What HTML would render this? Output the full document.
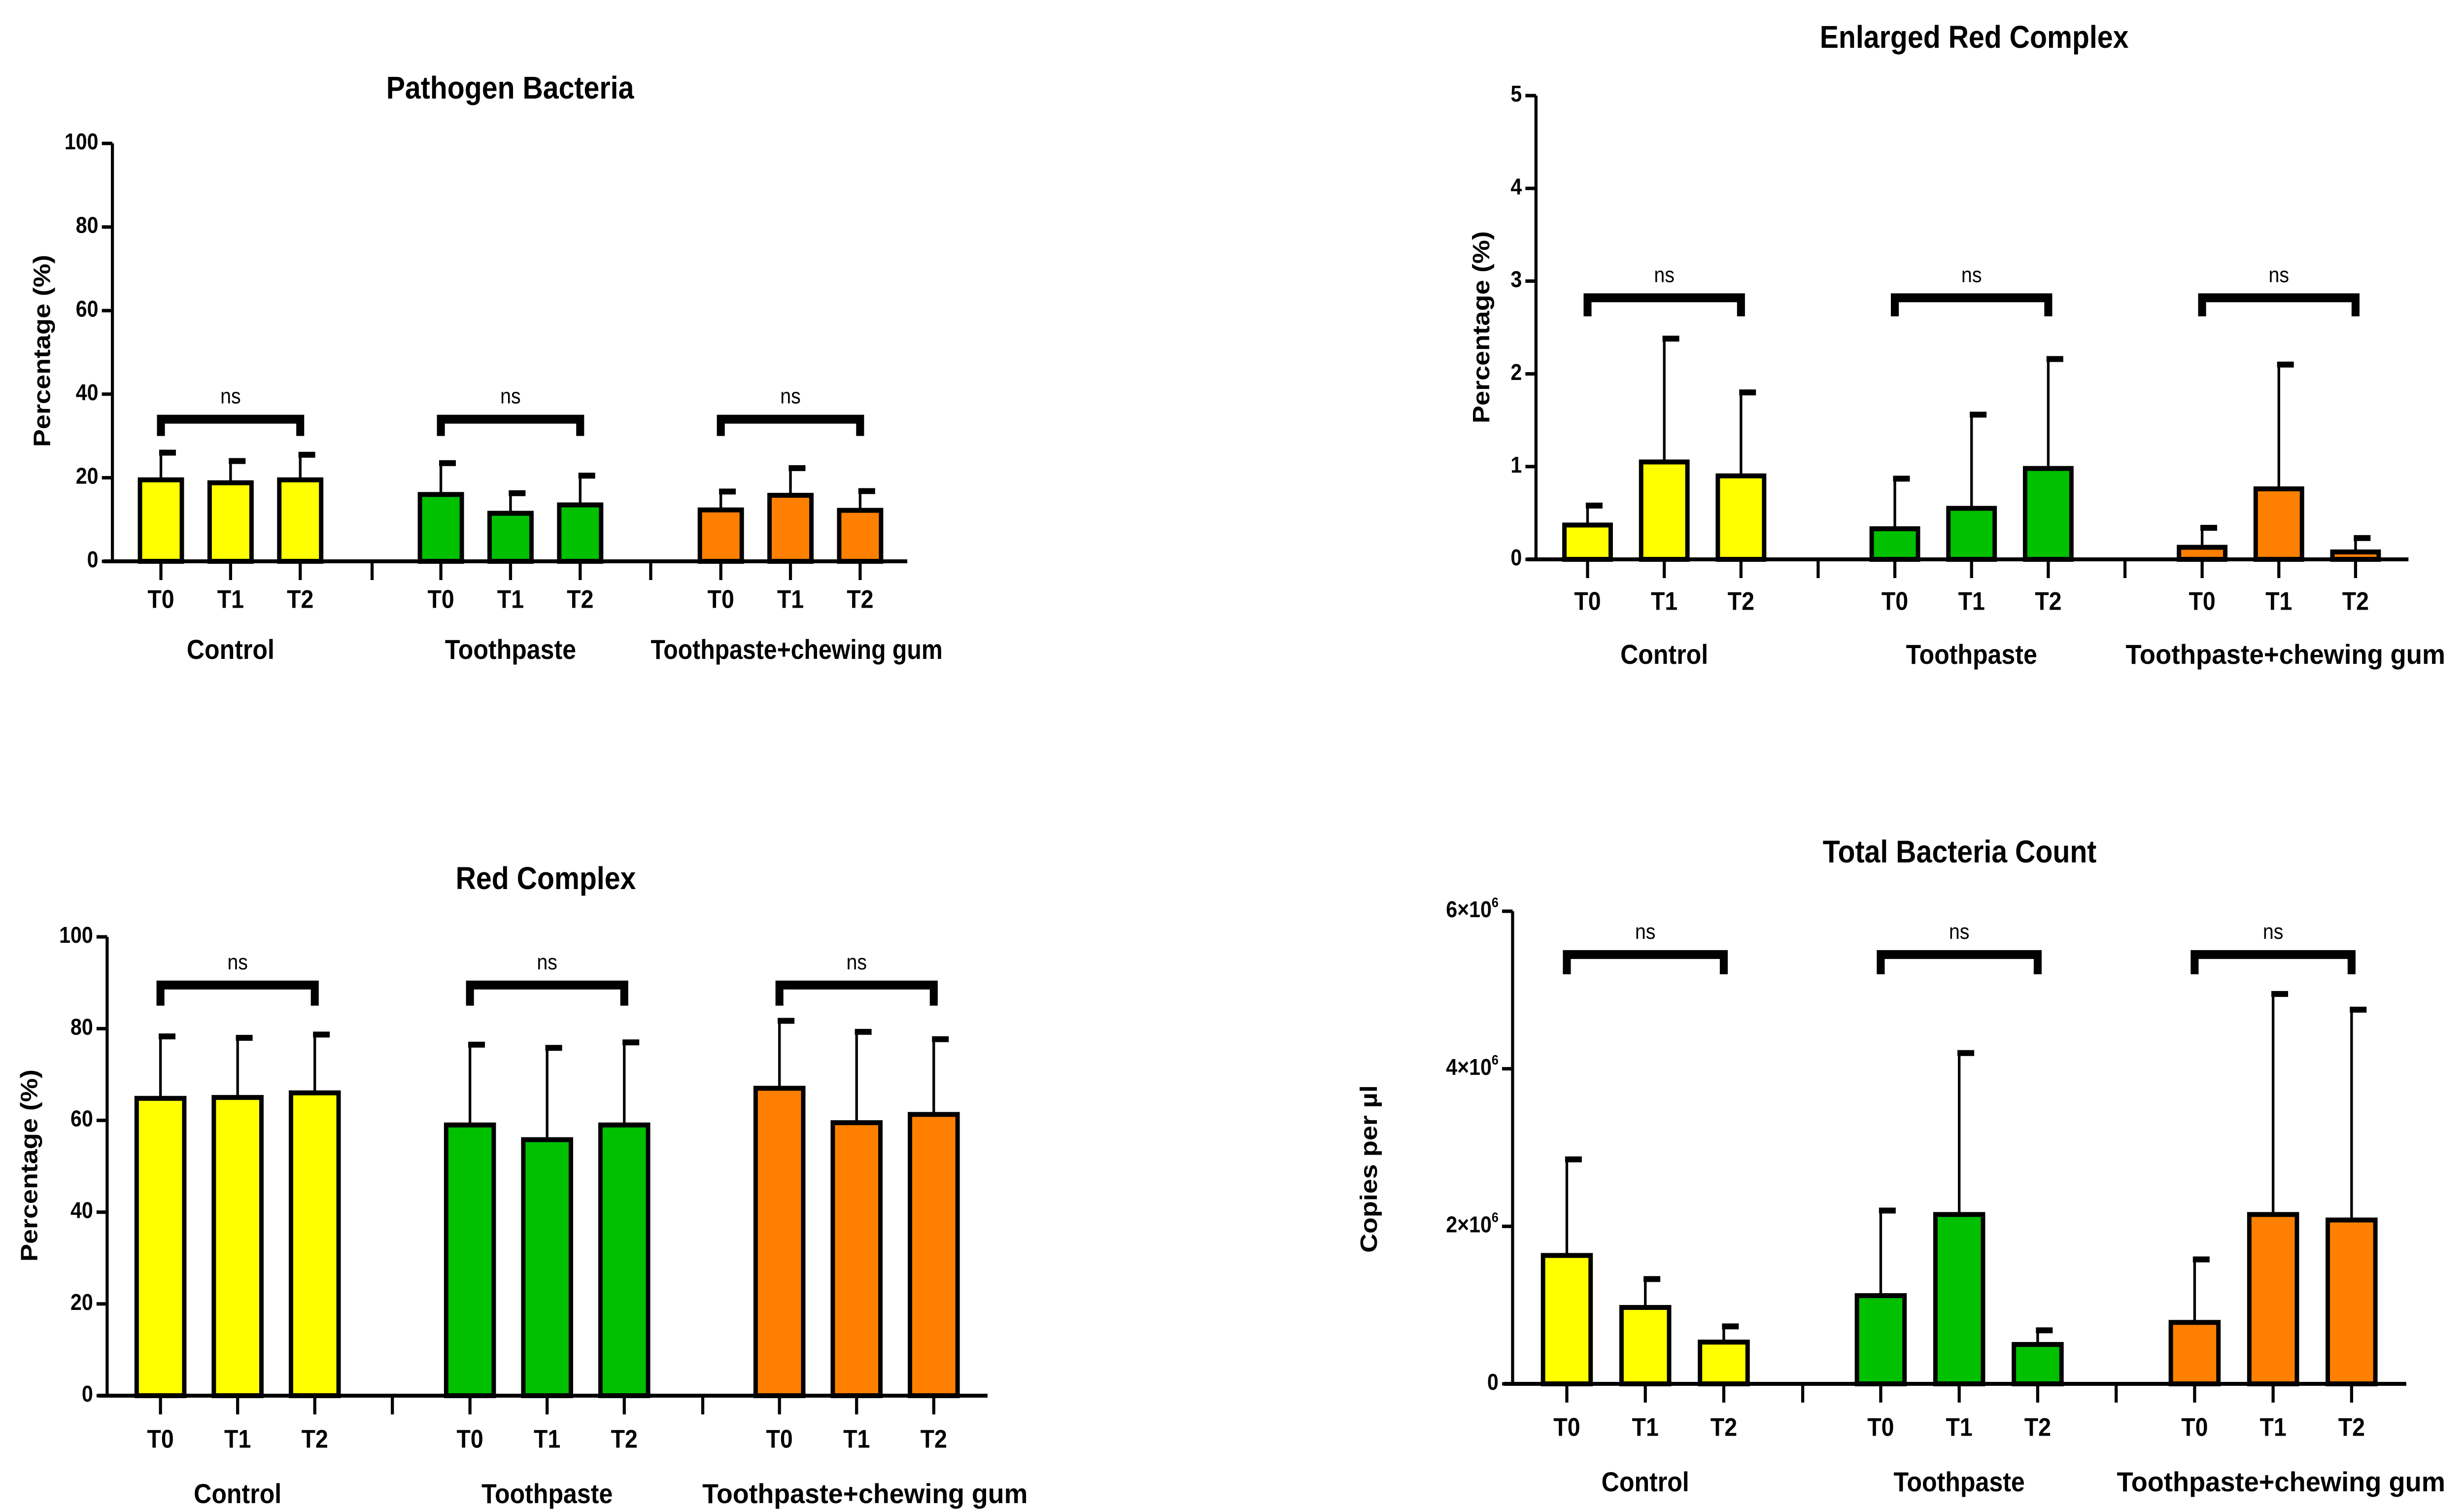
<!DOCTYPE html>
<html><head><meta charset="utf-8"><style>
html,body{margin:0;padding:0;background:#fff;overflow:hidden;width:100%;height:100%}
svg{display:block;width:100vw;height:100vh}
text{font-family:"Liberation Sans Narrow","Liberation Sans",sans-serif;fill:#000}
</style></head><body>
<svg id="fig" xmlns="http://www.w3.org/2000/svg" viewBox="0 0 5589 3066" preserveAspectRatio="none"></svg>
<script>
const timepoints = ["T0","T1","T2"];
const groups = ["Control","Toothpaste","Toothpaste+chewing gum"];
const groupColors = ["#ffff00","#00c000","#ff8000"];
// Pathogen Bacteria
const pathMeans = [19.5,18.8,19.5, 16,11.5,13.5, 12.3,15.8,12.2];
const pathErr   = [26,24,25.5, 23.5,16.3,20.5, 16.7,22.3,16.8];
const pathTicks = [0,20,40,60,80,100];
// Enlarged Red Complex
const enlMeans = [0.37,1.05,0.9, 0.33,0.55,0.98, 0.13,0.76,0.08];
const enlErr   = [0.58,2.38,1.8, 0.87,1.56,2.16, 0.34,2.1,0.23];
const enlTicks = [0,1,2,3,4,5];
// Red Complex
const redMeans = [64.8,65,66, 59,55.8,59, 67,59.5,61.3];
const redErr   = [78.3,78,78.7, 76.5,75.8,77, 81.7,79.3,77.7];
const redTicks = [0,20,40,60,80,100];
// Total Bacteria Count
const totMeans = [1.63e6,0.97e6,0.53e6, 1.12e6,2.15e6,0.5e6, 0.78e6,2.15e6,2.08e6];
const totErr   = [2.85e6,1.33e6,0.73e6, 2.2e6,4.2e6,0.68e6, 1.58e6,4.95e6,4.75e6];
const totTicks = [0,2e6,4e6,6e6];
const sigLabels = ["ns","ns","ns"];

const panels = [
 {name:"pathogen",title:"Pathogen Bacteria",ylab:"Percentage (%)",means:pathMeans,err:pathErr,ticks:pathTicks,ymax:100,
  ax:255,y0:1139,ytop:291,xend:2058,first:365,sp:158,goff:635,bw:95,sep:[844,1476],br:34,brl:30,
  tx:1157,ty:200,tly:1220,gly:1322,ylx:99,yly:712,sci:false,glw:662,glx:1807},
 {name:"enlarged-red",title:"Enlarged Red Complex",ylab:"Percentage (%)",means:enlMeans,err:enlErr,ticks:enlTicks,ymax:5,
  ax:3484,y0:1135,ytop:194,xend:5463,first:3601,sp:174,goff:697,bw:105,sep:[4124,4820],br:2.82,brl:2.62,
  tx:4478,ty:97,tly:1224,gly:1332,ylx:3364,yly:664,sci:false,glw:725,glx:5184},
 {name:"red-complex",title:"Red Complex",ylab:"Percentage (%)",means:redMeans,err:redErr,ticks:redTicks,ymax:100,
  ax:243,y0:2832,ytop:1901,xend:2240,first:364,sp:175,goff:702,bw:108,sep:[890,1594],br:89.5,brl:85,
  tx:1238,ty:1804,tly:2924,gly:3035,ylx:70,yly:2365,sci:false,glw:738,glx:1962},
 {name:"total-count",title:"Total Bacteria Count",ylab:"Copies per µl",means:totMeans,err:totErr,ticks:totTicks,ymax:6e6,
  ax:3431,y0:2808,ytop:1849,xend:5458,first:3554,sp:178,goff:712,bw:108,sep:[4089,4800],br:5.45e6,brl:5.2e6,
  tx:4445,ty:1750,tly:2900,gly:3011,ylx:3109,yly:2372,sci:true,glw:745,glx:5174}
];
const NS="http://www.w3.org/2000/svg";
const svg=document.getElementById('fig');
function mk(tag,attrs,parent){const e=document.createElementNS(NS,tag);for(const k in attrs)e.setAttribute(k,attrs[k]);(parent||svg).appendChild(e);return e;}

panels.forEach(p=>{
  const g=mk('g',{});
  
  
  const yS=v=>p.y0-(v/p.ymax)*(p.y0-p.ytop);
  const xS=i=>p.first+Math.floor(i/3)*p.goff+(i%3)*p.sp;
  const t=mk('text',{x:p.tx,y:p.ty,'text-anchor':'middle','font-size':64,'font-weight':'bold'},g);
  t.textContent=p.title;
  
  
  const yl=mk('text',{x:p.ylx,y:p.yly,'text-anchor':'middle','dominant-baseline':'middle','font-size':54,'font-weight':'bold',
    style:'font-family:"Liberation Sans",sans-serif',transform:`rotate(-90 ${p.ylx} ${p.yly})`},g);
  yl.textContent=p.ylab;
  
  
  p.means.forEach((m,i)=>{
    const cx=xS(i), c=groupColors[Math.floor(i/3)];
    const eb=mk('line',{x1:cx,x2:cx,y1:yS(m),y2:yS(p.err[i]),stroke:'#000','stroke-width':6},g);
    
    
    const cap=mk('line',{x1:cx-4,x2:cx+34,y1:yS(p.err[i]),y2:yS(p.err[i]),stroke:'#000','stroke-width':12},g);
    
    
    const r=mk('rect',{x:cx-p.bw/2,y:yS(m),width:p.bw,height:p.y0-yS(m),fill:c,stroke:'#000','stroke-width':10},g);
    
    
    const tk=mk('line',{x1:cx,x2:cx,y1:p.y0,y2:p.y0+38,stroke:'#000','stroke-width':7},g);
    
    
    const tl=mk('text',{x:cx,y:p.tly,'text-anchor':'middle','dominant-baseline':'middle','font-size':52,'font-weight':'bold'},g);
    tl.textContent=timepoints[i%3];
    
    
  });
  const ya=mk('line',{x1:p.ax,x2:p.ax,y1:p.ytop,y2:p.y0+3,stroke:'#000','stroke-width':7},g);
  
  
  const xa=mk('line',{x1:p.ax-20,x2:p.xend,y1:p.y0,y2:p.y0,stroke:'#000','stroke-width':8},g);
  
  
  p.sep.forEach(sx=>{
    const s=mk('line',{x1:sx,x2:sx,y1:p.y0,y2:p.y0+38,stroke:'#000','stroke-width':7},g);
    
    
  });
  p.ticks.forEach(v=>{
    const y=yS(v);
    const tk=mk('line',{x1:p.ax-24,x2:p.ax,y1:y,y2:y,stroke:'#000','stroke-width':7},g);
    
    
    const tl=mk('text',{x:p.ax-32,y:y,'text-anchor':'end','dominant-baseline':'middle','font-size':46,'font-weight':'bold'},g);
    if(p.sci && v!==0){
      tl.textContent=(v/1e6)+'×10';
      const sp=mk('tspan',{'font-size':28,dy:-16},tl);sp.textContent='6';
    } else tl.textContent=String(v);
    
    
  });
  groups.forEach((gn,k)=>{
    const cx=xS(k*3+1);
    const attrs={x:(k===2?p.glx:cx),y:p.gly,'text-anchor':'middle','dominant-baseline':'middle','font-size':56,'font-weight':'bold'};
    if(k===2){attrs.textLength=p.glw;attrs.lengthAdjust='spacingAndGlyphs';}
    const gl=mk('text',attrs,g);
    gl.textContent=gn;
    
    
    const xa0=xS(k*3), xa2=xS(k*3+2), by=yS(p.br), bl=yS(p.brl);
    const br=mk('path',{d:`M${xa0} ${bl} V${by} H${xa2} V${bl}`,fill:'none',stroke:'#000','stroke-width':18},g);
    
    
    const ns=mk('text',{x:cx,y:by-32,'text-anchor':'middle','font-size':44},g);
    ns.textContent=sigLabels[k];
    
    
  });
});
</script>
</body></html>
